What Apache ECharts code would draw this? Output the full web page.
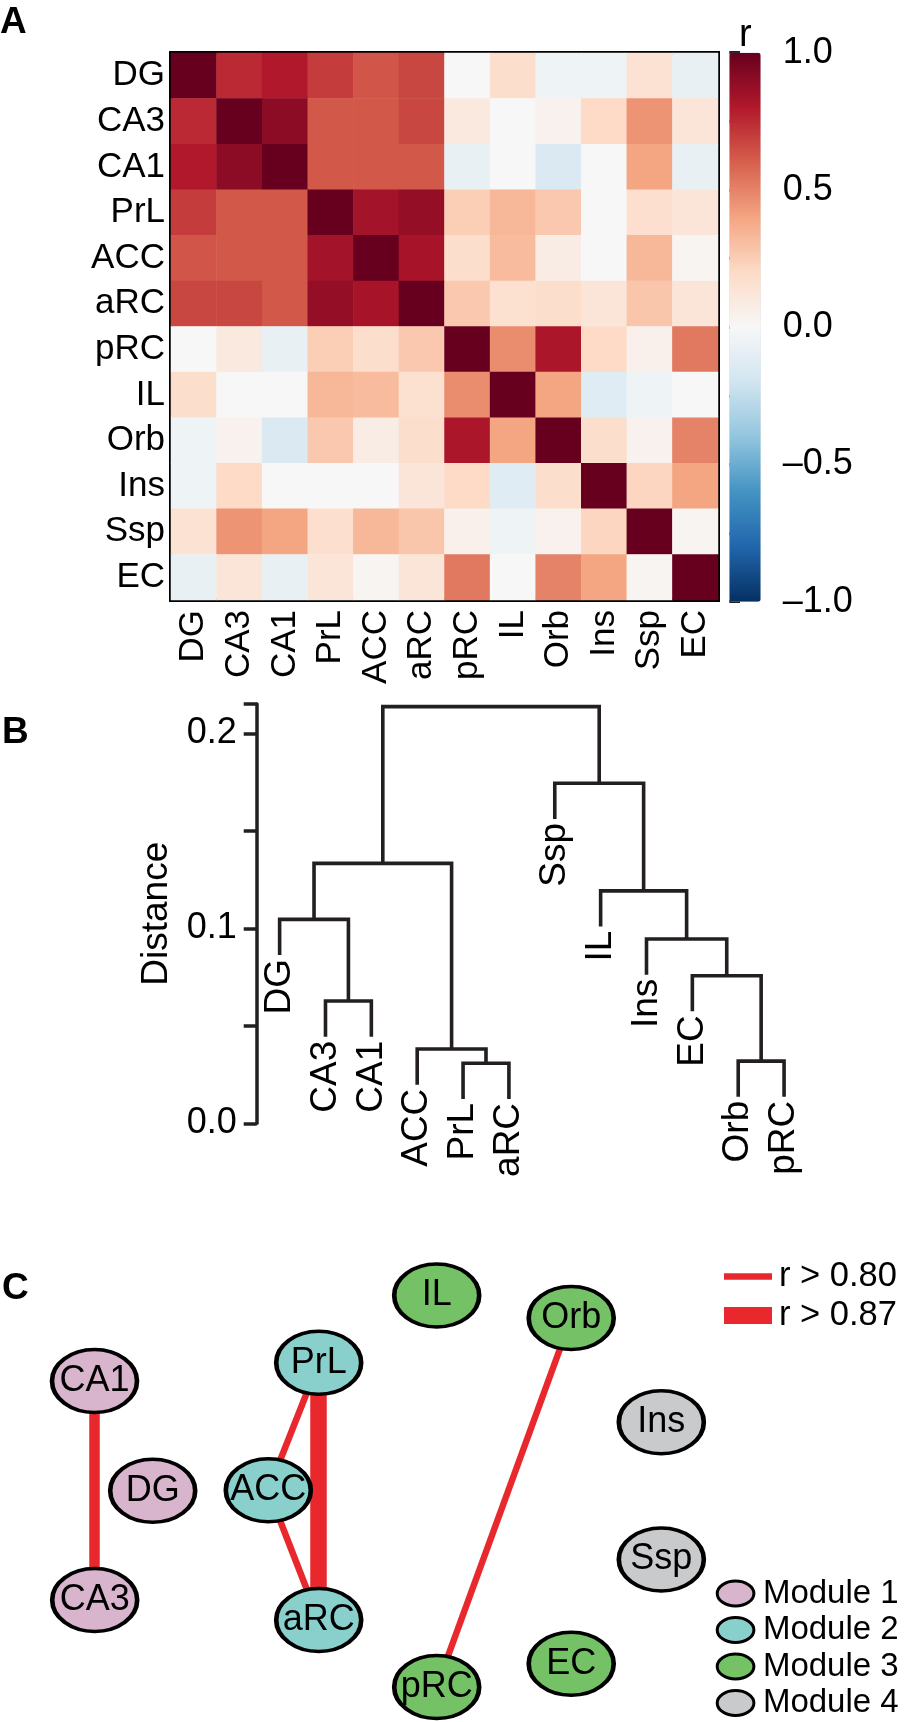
<!DOCTYPE html>
<html>
<head>
<meta charset="utf-8">
<script src="https://cdn.jsdelivr.net/npm/echarts@6.0.0/dist/echarts.min.js"></script>
<style>
html,body{margin:0;padding:0;background:#fff;}
#chart{width:904px;height:1722px;}
</style>
</head>
<body>
<div id="chart"></div>
<script>
// ---------------- Panel A : correlation matrix ----------------
const regions = ['DG','CA3','CA1','PrL','ACC','aRC','pRC','IL','Orb','Ins','Ssp','EC'];
const rowDG  = [ 1.00, 0.75, 0.80, 0.70, 0.63, 0.67, 0.00, 0.18,-0.05,-0.05, 0.15,-0.08];
const rowCA3 = [ 0.75, 1.00, 0.90, 0.62, 0.62, 0.67, 0.10, 0.00, 0.04, 0.20, 0.45, 0.13];
const rowCA1 = [ 0.80, 0.90, 1.00, 0.62, 0.62, 0.62,-0.08, 0.00,-0.15, 0.00, 0.40,-0.08];
const rowPrL = [ 0.70, 0.62, 0.62, 1.00, 0.84, 0.88, 0.25, 0.33, 0.27, 0.00, 0.17, 0.13];
const rowACC = [ 0.63, 0.62, 0.62, 0.84, 1.00, 0.83, 0.18, 0.32, 0.08, 0.00, 0.33, 0.02];
const rowaRC = [ 0.67, 0.67, 0.62, 0.88, 0.83, 1.00, 0.27, 0.16, 0.18, 0.13, 0.28, 0.13];
const rowpRC = [ 0.00, 0.10,-0.08, 0.25, 0.18, 0.27, 1.00, 0.47, 0.82, 0.20, 0.05, 0.53];
const rowIL  = [ 0.18, 0.00, 0.00, 0.33, 0.32, 0.16, 0.47, 1.00, 0.40,-0.12,-0.05, 0.00];
const rowOrb = [-0.05, 0.04,-0.15, 0.27, 0.08, 0.18, 0.82, 0.40, 1.00, 0.18, 0.04, 0.50];
const rowIns = [-0.05, 0.20, 0.00, 0.00, 0.00, 0.13, 0.20,-0.12, 0.18, 1.00, 0.22, 0.40];
const rowSsp = [ 0.15, 0.45, 0.40, 0.17, 0.33, 0.28, 0.05,-0.05, 0.04, 0.22, 1.00, 0.02];
const rowEC  = [-0.08, 0.13,-0.08, 0.13, 0.02, 0.13, 0.53, 0.00, 0.50, 0.40, 0.02, 1.00];
const corrRows = [rowDG,rowCA3,rowCA1,rowPrL,rowACC,rowaRC,rowpRC,rowIL,rowOrb,rowIns,rowSsp,rowEC];
const colorbarMin = -1, colorbarMax = 1, colorbarStep = 0.25;

// ---------------- Panel B : dendrogram (R hclust style merges) ----------------
const leafOrder   = ['DG','CA3','CA1','ACC','PrL','aRC','Ssp','IL','Ins','EC','Orb','pRC'];
// negative = leaf (1-based index in leafOrder), positive = earlier merge (1-based)
const mergeLeft   = [-5, -11, -4, -2, -10, -9, -1, -8, 7, -7, 9];
const mergeRight  = [-6, -12,  1, -3,   2,  5,  4,  6, 3,  8, 10];
const mergeHeight = [0.0308, 0.0319, 0.0381, 0.0627, 0.0757, 0.0945, 0.1046, 0.1192, 0.1333, 0.1744, 0.2137];
const distanceTicks = [0, 0.1, 0.2];

// ---------------- Panel C : network ----------------
const modules     = ['Module 1','Module 2','Module 3','Module 4'];
const nodeNames   = ['CA1','DG','CA3','PrL','ACC','aRC','IL','Orb','pRC','EC','Ins','Ssp'];
const nodeModule  = [0,0,0,1,1,1,2,2,2,2,3,3];
const nodeLayoutX = [4.45, 10.27, 4.47, 26.87, 21.83, 26.87, 38.67, 52.12, 38.67, 52.12, 61.13, 61.13];
const nodeLayoutY = [32.9, 21.93, 11.0, 34.72, 21.98,  9.0,  41.45, 39.2,  2.3,  4.62, 28.78, 15.05];
const edgeSource  = ['CA1','PrL','PrL','ACC','Orb'];
const edgeTarget  = ['CA3','aRC','ACC','aRC','pRC'];
const edgeTier    = [2, 3, 1, 1, 1];
const edgeLegend  = ['r > 0.80', 'r > 0.87'];

// ---------------- styles ----------------
const FONT = "'Liberation Sans', Arial, Helvetica, sans-serif";
const INK = '#231f20';
const RED = '#e8282c';
const RdBu = ['#053061','#2166ac','#4393c3','#92c5de','#d1e5f0','#f7f7f7','#fddbc7','#f4a582','#d6604d','#b2182b','#67001f'];
const moduleColors = ['#d8b4cd','#89d0cc','#74c166','#c9cacc'];
const tierWidth = {1: 6.5, 2: 10.5, 3: 16.5};
const ELLIPSE = 'path://M0,50A50,50,0,1,1,100,50A50,50,0,1,1,0,50Z';
const nodeBorder = {borderColor: '#000', borderWidth: 4};

// ---------------- build data ----------------
const heatData = [];
corrRows.forEach((row, i) => row.forEach((v, j) => heatData.push([j, i, v])));

const mergeX = [];
const hang = 0.1 * (Math.max(...mergeHeight) - Math.min(...mergeHeight));
const leafEnd = new Array(leafOrder.length);
const segData = [];
function xOf(id) { return id < 0 ? -id : mergeX[id - 1]; }
for (let k = 0; k < mergeHeight.length; k++) {
  const a = mergeLeft[k], b = mergeRight[k], h = mergeHeight[k];
  const xa = xOf(a), xb = xOf(b);
  mergeX.push((xa + xb) / 2);
  const ya = a < 0 ? h - hang : mergeHeight[a - 1];
  const yb = b < 0 ? h - hang : mergeHeight[b - 1];
  if (a < 0) leafEnd[-a - 1] = h - hang;
  if (b < 0) leafEnd[-b - 1] = h - hang;
  segData.push([xa, xb, h, ya, yb]);
}
const leafData = leafOrder.map((n, i) => [i + 1, leafEnd[i]]);

const graphNodes = nodeNames.map((n, i) => ({
  name: n, value: [nodeLayoutX[i], nodeLayoutY[i]], category: nodeModule[i],
  itemStyle: Object.assign({color: moduleColors[nodeModule[i]]}, nodeBorder)
}));
const graphLinks = edgeSource.map((s, i) => ({source: s, target: edgeTarget[i], lineStyle: {width: tierWidth[edgeTier[i]]}}));

function cbLabel(v) {
  const r = Math.round(v * 100) / 100;
  if (Math.abs(r * 2 - Math.round(r * 2)) > 1e-9) return '';
  const s = Math.abs(r).toFixed(1);
  return r < 0 ? '\u2013' + s : s;
}

const chart = echarts.init(document.getElementById('chart'), null, {renderer: 'canvas'});
const option = {
  animation: false,
  backgroundColor: '#fff',
  title: [
    {text: 'A', left: 0, top: 4, padding: 0, textStyle: {fontSize: 37, fontWeight: 'bold', fontFamily: FONT, color: '#000'}},
    {text: 'B', left: 2, top: 714, padding: 0, textStyle: {fontSize: 37, fontWeight: 'bold', fontFamily: FONT, color: '#000'}},
    {text: 'C', left: 2, top: 1270, padding: 0, textStyle: {fontSize: 37, fontWeight: 'bold', fontFamily: FONT, color: '#000'}},
    {text: 'r', left: 739, top: 17, padding: 0, textStyle: {fontSize: 38, fontWeight: 'normal', fontFamily: FONT, color: '#000'}}
  ],
  grid: [
    {left: 171, top: 53, width: 547, height: 547, show: true, borderColor: '#000', borderWidth: 4, backgroundColor: 'transparent', outerBoundsMode: 'none'},
    {left: 256.7, top: 704.1, width: 550.3, height: 419.2, outerBoundsMode: 'none'},
    {left: 729.3, top: 52.7, width: 31.4, height: 549, outerBoundsMode: 'none'},
    {left: 50, top: 1260, width: 650, height: 450, outerBoundsMode: 'none'}
  ],
  xAxis: [
    {gridIndex: 0, type: 'category', data: regions, position: 'bottom',
     axisLine: {show: false}, axisTick: {show: false}, splitLine: {show: false},
     axisLabel: {interval: 0, rotate: 90, margin: 10, fontSize: 35, fontFamily: FONT, color: '#000'}},
    {gridIndex: 1, type: 'value', min: 0.5, max: 12.5, show: false},
    {gridIndex: 2, type: 'value', min: 0, max: 1, show: false},
    {gridIndex: 3, type: 'value', min: 0, max: 65, show: false}
  ],
  yAxis: [
    {gridIndex: 0, type: 'category', data: regions, inverse: true,
     axisLine: {show: false}, axisTick: {show: false}, splitLine: {show: false},
     axisLabel: {interval: 0, margin: 6, fontSize: 35, fontFamily: FONT, color: '#000'}},
    {gridIndex: 1, type: 'value', min: 0, max: 0.215, interval: 0.05,
     name: 'Distance', nameLocation: 'middle', nameGap: 77,
     nameTextStyle: {fontSize: 37, fontFamily: FONT, color: '#000'},
     axisLine: {show: true, lineStyle: {color: INK, width: 3.5}},
     axisTick: {show: true, length: 13, lineStyle: {color: INK, width: 3.5}},
     splitLine: {show: false},
     axisLabel: {margin: 20, fontSize: 36, fontFamily: FONT, color: '#000',
       formatter: v => distanceTicks.some(t => Math.abs(t - v) < 1e-9) ? v.toFixed(1) : ''}},
    {gridIndex: 2, type: 'value', min: colorbarMin, max: colorbarMax, interval: colorbarStep, position: 'right',
     axisLine: {show: false},
     axisTick: {show: true, length: 10.7, lineStyle: {color: INK, width: 3}},
     splitLine: {show: false},
     axisLabel: {margin: 22, fontSize: 36, fontFamily: FONT, color: '#000', formatter: cbLabel}},
    {gridIndex: 3, type: 'value', min: 0, max: 45, show: false}
  ],
  visualMap: {
    type: 'continuous', seriesIndex: 0, dimension: 2, min: colorbarMin, max: colorbarMax,
    inRange: {color: RdBu}, orient: 'vertical', left: 729.3, top: 52.7, padding: 0,
    itemWidth: 31.4, itemHeight: 549, calculable: false, hoverLink: false, text: null
  },
  legend: [
    {data: modules, orient: 'vertical', left: 715.7, top: 1577, height: 400, padding: 0,
     itemWidth: 36.7, itemHeight: 25, itemGap: 3.5, icon: ELLIPSE, symbolKeepAspect: false, selectedMode: false,
     itemStyle: {borderColor: '#000', borderWidth: 3},
     textStyle: {fontSize: 33, fontFamily: FONT, color: '#000', padding: [0, 0, 0, 4]}},
    {data: [{name: edgeLegend[0], icon: 'path://M0,0H143V20H0Z'}, {name: edgeLegend[1], icon: 'path://M0,0H48V17H0Z'}],
     orient: 'vertical', left: 724, top: 1259, padding: 0, symbolKeepAspect: true,
     itemWidth: 48, itemHeight: 17, itemGap: 4, selectedMode: false,
     itemStyle: {borderWidth: 0},
     textStyle: {fontSize: 34.5, fontFamily: FONT, color: '#000', padding: [0, 0, 0, 2]}}
  ],
  series: [
    {type: 'heatmap', xAxisIndex: 0, yAxisIndex: 0, data: heatData, silent: true,
     emphasis: {disabled: true}, progressive: 0},
    {type: 'custom', xAxisIndex: 1, yAxisIndex: 1, clip: false, silent: true, data: segData,
     encode: {x: [0, 1], y: [2, 3, 4]},
     renderItem: (params, api) => {
       const xa = api.value(0), xb = api.value(1), h = api.value(2), ya = api.value(3), yb = api.value(4);
       const pts = [api.coord([xa, ya]), api.coord([xa, h]), api.coord([xb, h]), api.coord([xb, yb])];
       return {type: 'polyline', shape: {points: pts},
               style: {stroke: INK, lineWidth: 3.6, fill: null, lineJoin: 'miter', lineCap: 'butt'}};
     }},
    {type: 'custom', xAxisIndex: 1, yAxisIndex: 1, clip: false, silent: true, data: leafData,
     encode: {x: 0, y: 1},
     renderItem: (params, api) => {
       const p = api.coord([api.value(0), api.value(1)]);
       return {type: 'text', x: p[0], y: p[1] + 4, rotation: Math.PI / 2,
               style: {text: leafOrder[params.dataIndex], fontSize: 37, fontFamily: FONT, fill: '#000',
                       align: 'right', verticalAlign: 'middle'}};
     }},
    {type: 'graph', coordinateSystem: 'cartesian2d', xAxisIndex: 3, yAxisIndex: 3, silent: true,
     layout: 'none', symbol: ELLIPSE, symbolSize: [85, 63], symbolKeepAspect: false,
     categories: modules.map((m, i) => ({name: m, itemStyle: Object.assign({color: moduleColors[i]}, nodeBorder)})),
     data: graphNodes, links: graphLinks,
     itemStyle: nodeBorder,
     label: {show: true, position: 'inside', fontSize: 36, fontFamily: FONT, color: '#000'},
     lineStyle: {color: RED, opacity: 1, curveness: 0},
     emphasis: {disabled: true}},
    {type: 'line', name: edgeLegend[0], xAxisIndex: 3, yAxisIndex: 3, data: [], color: RED},
    {type: 'line', name: edgeLegend[1], xAxisIndex: 3, yAxisIndex: 3, data: [], color: RED}
  ]
};
chart.setOption(option);
</script>
</body>
</html>
